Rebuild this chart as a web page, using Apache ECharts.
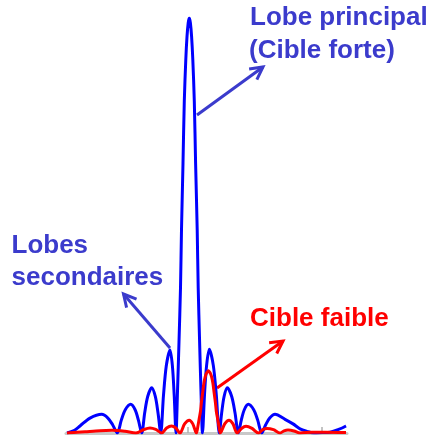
<!DOCTYPE html>
<html>
<head>
<meta charset="utf-8">
<title>Lobe principal / lobes secondaires</title>
<script src="https://cdn.jsdelivr.net/npm/echarts@6/dist/echarts.min.js"></script>
<style>
  html, body { margin: 0; padding: 0; background: #fff; }
  #chart { width: 433px; height: 436px; }
</style>
</head>
<body>
<div id="chart"></div>
<script>
// position along the axis (arbitrary units) and normalised amplitude in %
const strongX = [-121, -114, -108, -98, -86.3, -80.1, -75.4, -70.7, -66.7, -62.7, -57.3, -52.9, -49.6,
  -46.3, -43.3, -40.3, -36.3, -32.7, -30, -27.3, -24.5, -21.7, -18, -15.6, -13.8,
  -12, -10.5, -9, -7.5, -6.5, -5, -3.7, -2.2, -1, 0.2, 1.3, 2.4, 3.6, 4.8, 6.3, 7.6, 9.2, 10.2, 11.6, 13,
  14.5, 16.5, 18.6, 21.3, 25.3, 28.3, 31.3, 33.7, 36.1, 39.3, 43.7, 47, 50.3, 53.3, 56.3, 60.3, 65.7, 69.7,
  73.7, 77.7, 81.7, 87, 97, 105, 112, 119, 126, 134, 142, 150, 158]
const strongY = [0, 0.6, 1.7, 3.6, 4.5, 3.6, 2.0, 0, 3.1, 5.6, 6.9, 5.6, 3.1,
  0, 4.9, 8.8, 10.9, 8.8, 4.9, 0, 9.1, 16.2, 20, 16.2, 9.1,
  0, 10, 22, 35, 49, 65, 80, 90, 95.5, 98.8, 100, 98.8, 95.5, 90, 80, 65, 49, 35, 22, 10,
  0, 9.2, 16.3, 20.2, 16.3, 9.2, 0, 4.9, 8.8, 10.9, 8.8, 4.9, 0, 3.1, 5.6, 6.9, 5.6, 3.1,
  0, 2.0, 3.6, 4.5, 3.3, 2.2, 1.0, 0.4, 0, 0.1, 0.2, 0.8, 1.7]

const weakX = [-121, -103, -88, -76, -63, -52, -44, -38, -32.2, -26.3, -21.4, -16.5, -12.2, -8, -3.4, 1.3, 4.8,
  8.4, 9.8, 11.1, 12.5, 13.4, 14.7, 15.9, 17.2, 18.3, 20.4, 22.5, 23.6, 24.9, 26.1, 27.4, 28.3, 29.7, 31, 32.4,
  36.7, 41, 45, 49, 53.5, 58, 64, 70.5, 74.7, 79, 85.5, 92, 96, 100, 106, 112, 124, 137, 158]
const weakY = [0, 0.3, 0.55, 0.65, 0.4, 0, 0.85, 1.2, 0.85, 0, 1.2, 1.7, 1.2, 0, 2.2, 3.1, 2.2,
  0, 1.5, 3.3, 5.25, 7.35, 9.75, 12, 13.5, 14.3, 15, 14.3, 13.5, 12, 9.75, 7.35, 5.25, 3.3, 1.5, 0,
  2.2, 3.1, 2.2, 0, 1.1, 1.6, 1.1, 0, 0.8, 1.1, 0.8, 0, 0.5, 0.7, 0.5, 0, 0.2, 0.2, 0.1]

const tickValues = [0, 134]

const blueText = '#3b3bcc'
const redText = '#ff0000'
const font = '"Liberation Sans", Arial, sans-serif'

function zip(xs, ys) {
  return xs.map((x, i) => [x, ys[i]])
}

// arrow with an open V head
function arrow(x1, y1, x2, y2, color) {
  const a = Math.atan2(y1 - y2, x1 - x2)
  const len = 14
  const spread = 28 * Math.PI / 180
  const p1 = [x2 + len * Math.cos(a + spread), y2 + len * Math.sin(a + spread)]
  const p2 = [x2 + len * Math.cos(a - spread), y2 + len * Math.sin(a - spread)]
  return {
    type: 'group',
    children: [
      { type: 'line', shape: { x1, y1, x2, y2 }, style: { stroke: color, lineWidth: 3 } },
      { type: 'polyline', shape: { points: [p1, [x2, y2], p2] }, style: { stroke: color, lineWidth: 3, fill: null, lineJoin: 'miter' } }
    ]
  }
}

function label(text, x, y, color) {
  return {
    type: 'text',
    x, y,
    style: {
      text,
      fill: color,
      font: 'bold 26px ' + font,
      verticalAlign: 'middle'
    }
  }
}

const chart = echarts.init(document.getElementById('chart'))

chart.setOption({
  animation: false,
  grid: { left: 66, right: 86, top: 18, bottom: 3 },
  xAxis: {
    type: 'value',
    min: -122,
    max: 159,
    axisLine: { lineStyle: { color: '#c8c8c8', width: 3 } },
    axisTick: { inside: true, length: 6, customValues: tickValues, lineStyle: { color: '#b0b0b0', width: 1.5 } },
    axisLabel: { show: false },
    splitLine: { show: false }
  },
  yAxis: {
    type: 'value',
    min: 0,
    max: 100,
    show: false
  },
  series: [{
    name: 'Cible forte',
    type: 'line',
    data: zip(strongX, strongY),
    showSymbol: false,
    smooth: 0.3,
    lineStyle: { color: '#0000ff', width: 3 },
    z: 3
  }, {
    name: 'Cible faible',
    type: 'line',
    data: zip(weakX, weakY),
    showSymbol: false,
    smooth: 0.3,
    lineStyle: { color: '#ff0000', width: 3 },
    z: 4
  }],
  graphic: [
    label('Lobe principal', 250, 18, blueText),
    label('(Cible forte)', 249, 51, blueText),
    label('Lobes', 11.5, 246, blueText),
    label('secondaires', 11.5, 277.5, blueText),
    label('Cible faible', 250, 319, redText),
    arrow(197, 115, 263, 67, blueText),
    arrow(170, 348, 123.5, 294, blueText),
    arrow(217, 388, 283, 341, redText)
  ]
})
</script>
</body>
</html>
